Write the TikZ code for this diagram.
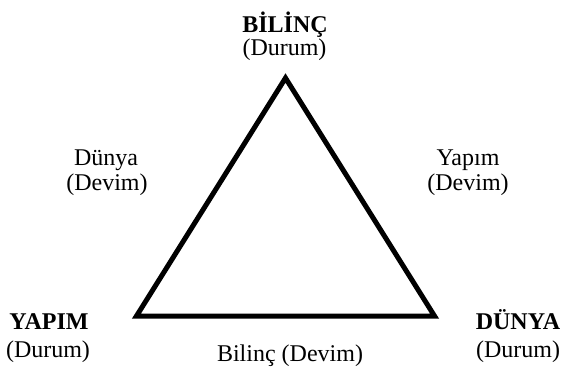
\documentclass[tikz,border=0pt]{standalone}
\usepackage{fontspec}
\setmainfont{Liberation Serif}
\begin{document}
\begin{tikzpicture}[x=1pt,y=-1pt,
  lbl/.style={anchor=base,inner sep=0pt,font=\fontsize{24}{24}\selectfont},
  blbl/.style={lbl,font=\fontsize{24}{24}\selectfont\bfseries},
  tri/.style={line width=5pt,line join=miter}]
\useasboundingbox (0,0) rectangle (562,367);
\coordinate (T) at (285.5,78);
\coordinate (L) at (136.5,316);
\coordinate (R) at (434.5,316);
\draw[tri] (T) -- (L) -- (R) -- cycle;
\node[blbl] (t1) at (285,32) {BİLİNÇ};
\node[lbl] (t2) at (284.5,55) {(Durum)};
\node[lbl] (l1) at (106,165) {Dünya};
\node[lbl] (l2) at (107,190) {(Devim)};
\node[lbl] (r1) at (468,165) {Yapım};
\node[lbl] (r2) at (468,190) {(Devim)};
\node[blbl] (bl1) at (49,329) {YAPIM};
\node[lbl] (bl2) at (48,357) {(Durum)};
\node[blbl] (br1) at (518,329) {DÜNYA};
\node[lbl] (br2) at (518,357) {(Durum)};
\node[lbl] (b) at (290,361) {Bilinç (Devim)};
\end{tikzpicture}
\end{document}
